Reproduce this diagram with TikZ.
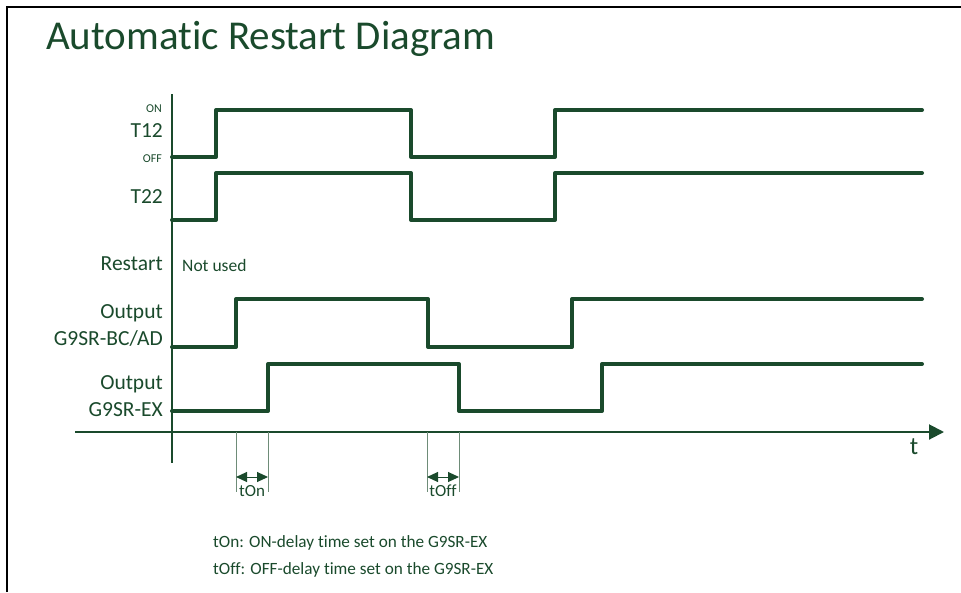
\documentclass[tikz,border=0pt]{standalone}
\usepackage{fontspec}
\setmainfont{Carlito}[Ligatures={NoCommon}]
\usetikzlibrary{arrows.meta}
\definecolor{dg}{RGB}{26,74,44}
\definecolor{tg}{RGB}{110,140,120}
\begin{document}
\begin{tikzpicture}[x=1pt,y=-1pt,
  sig/.style={line width=4pt,draw=dg,line cap=round,line join=round},
  axis/.style={line width=2pt,draw=dg},
  lab/.style={anchor=east,text=dg,font=\fontsize{21.5}{27}\selectfont,align=right,inner sep=0pt},
  small/.style={anchor=east,text=dg,font=\fontsize{12}{14}\selectfont,inner sep=0pt},
  note/.style={anchor=west,text=dg,font=\fontsize{17.2}{20}\selectfont,inner sep=0pt},
  tick/.style={line width=1pt,draw=tg},
  dly/.style={line width=1pt,draw=dg,{Triangle[length=11pt,width=10pt]}-{Triangle[length=11pt,width=10pt]}},
  dlab/.style={text=dg,font=\fontsize{17}{20}\selectfont,inner sep=0pt}]
\useasboundingbox (0,0) rectangle (961,592);
% frame
\draw[line width=2.5pt,black] (7,592) -- (7,7) -- (961,7);
% title
\node[anchor=base west,text=dg,font=\fontsize{41}{48}\selectfont,inner sep=0pt] (title) at (46,49) {Automatic Restart Diagram};
% axes
\coordinate (yt) at (172,94);
\coordinate (yb) at (172,463);
\coordinate (xl) at (75,432);
\coordinate (xr) at (944,432);
\draw[axis] (yt) -- (yb);
\draw[axis,-{Triangle[length=15pt,width=15pt]}] (xl) -- (xr);
\node[text=dg,font=\fontsize{25}{30}\selectfont,inner sep=0pt] (t) at (914,447) {t};
% labels
\node[small] (on) at (162,109) {ON};
\node[lab] (t12) at (163,131) {T12};
\node[small] (off) at (162,159) {OFF};
\node[lab] (t22) at (163,197) {T22};
\node[lab] (rst) at (163,264) {Restart};
\node[anchor=west,text=dg,font=\fontsize{17.5}{21}\selectfont,inner sep=0pt] (nu) at (182,265) {Not used};
\node[lab] (obc) at (163,325) {Output\\G9SR-BC/AD};
\node[lab] (oex) at (163,396) {Output\\G9SR-EX};
% signals
\draw[sig] (172,157) -- (216,157) -- (216,110) -- (411,110) -- (411,157) -- (555,157) -- (555,110) -- (922,110);
\draw[sig] (172,220) -- (216,220) -- (216,173) -- (411,173) -- (411,220) -- (555,220) -- (555,173) -- (922,173);
\draw[sig] (172,347) -- (236,347) -- (236,299) -- (428,299) -- (428,347) -- (572,347) -- (572,299) -- (922,299);
\draw[sig] (172,411) -- (268,411) -- (268,364) -- (459,364) -- (459,411) -- (602,411) -- (602,364) -- (922,364);
% delays
\coordinate (a1) at (236,432); \coordinate (a2) at (236,492);
\coordinate (b1) at (268,432); \coordinate (b2) at (268,492);
\coordinate (c1) at (427,432); \coordinate (c2) at (427,492);
\coordinate (d1) at (459,432); \coordinate (d2) at (459,492);
\draw[tick] (a1) -- (a2);
\draw[tick] (b1) -- (b2);
\draw[tick] (c1) -- (c2);
\draw[tick] (d1) -- (d2);
\coordinate (ta) at (236,477); \coordinate (tb) at (268,477);
\coordinate (tc) at (427,477); \coordinate (td) at (459,477);
\draw[dly] (ta) -- (tb);
\draw[dly] (tc) -- (td);
\node[dlab] (ton) at (252,491) {tOn};
\node[dlab] (toff) at (443,491) {tOff};
% notes
\node[note] (n1) at (213,543) {tOn: ON-delay time set on the G9SR-EX};
\node[note] (n2) at (213,570) {tOff: OFF-delay time set on the G9SR-EX};
\end{tikzpicture}
\end{document}
